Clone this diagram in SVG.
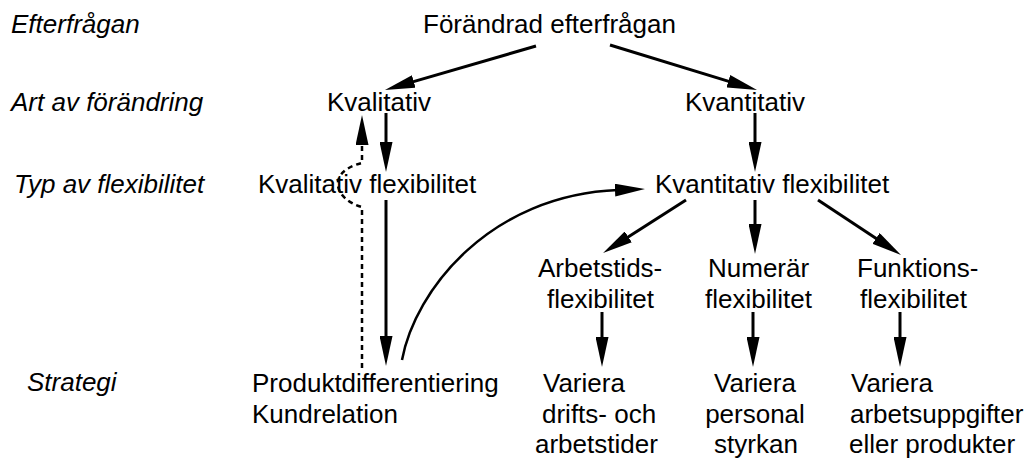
<svg xmlns="http://www.w3.org/2000/svg" width="1029" height="461" viewBox="0 0 1029 461">
<style>
text{font-family:"Liberation Sans",Arial,Helvetica,sans-serif;font-size:26px;fill:#000}
.lab{font-style:italic}
.mid{text-anchor:middle}
.c{fill:none;stroke:#000;stroke-width:3}
.thin{stroke-width:2.5}
.dash{stroke-width:2.5;stroke-dasharray:5,4}
</style>
<defs>
<marker id="ah" markerUnits="userSpaceOnUse" markerWidth="30" markerHeight="13" refX="3" refY="6.5" orient="auto" viewBox="0 0 30 13">
<path d="M0,0 L30,6.5 L0,13 z" fill="#000"/>
</marker>
</defs>
<rect width="1029" height="461" fill="#fff"/>
<g id="labels">
<text class="lab" x="11" y="33">Efterfrågan</text>
<text class="lab" x="11" y="111">Art av förändring</text>
<text class="lab" x="14" y="193">Typ av flexibilitet</text>
<text class="lab" x="27" y="391">Strategi</text>
</g>
<g id="n-efterfragan"><text x="423" y="33">Förändrad efterfrågan</text></g>
<g id="n-kvalitativ"><text x="327" y="111">Kvalitativ</text></g>
<g id="n-kvantitativ"><text x="685" y="111">Kvantitativ</text></g>
<g id="n-kvalflex"><text x="258" y="193">Kvalitativ flexibilitet</text></g>
<g id="n-kvantflex"><text x="655" y="193">Kvantitativ flexibilitet</text></g>
<g id="n-arbetstids"><text x="538" y="277">Arbetstids-</text><text x="547" y="308">flexibilitet</text></g>
<g id="n-numerar"><text x="708" y="277">Numerär</text><text x="705" y="308">flexibilitet</text></g>
<g id="n-funktions"><text x="857" y="277">Funktions-</text><text x="860" y="308">flexibilitet</text></g>
<g id="n-produkt"><text x="252" y="392">Produktdifferentiering</text><text x="252" y="423">Kundrelation</text></g>
<g id="n-variera1"><text x="543" y="392">Variera</text><text x="542" y="423">drifts- och</text><text x="535" y="453">arbetstider</text></g>
<g id="n-variera2"><text class="mid" x="755" y="392">Variera</text><text class="mid" x="755" y="423">personal</text><text class="mid" x="756" y="453">styrkan</text></g>
<g id="n-variera3"><text x="851" y="392">Variera</text><text x="850" y="423">arbetsuppgifter</text><text x="849" y="453">eller produkter</text></g>
<g id="connectors">
<path class="c" d="M536,46 L410.9,82.4" marker-end="url(#ah)"/>
<path class="c" d="M610,45 L731.2,82.1" marker-end="url(#ah)"/>
<path class="c" d="M386,113 L386,145" marker-end="url(#ah)"/>
<path class="c" d="M755,113 L755,145" marker-end="url(#ah)"/>
<path class="c dash" d="M362,368 L362,207 C335,200 325,172 362,163 L362,142" marker-end="url(#ah)"/>
<path class="c" d="M386,200 L386,339" marker-end="url(#ah)"/>
<path class="c thin" d="M402,360 C415,290 490,195 618,190" marker-end="url(#ah)"/>
<path class="c" d="M686,200 L625.8,238.5" marker-end="url(#ah)"/>
<path class="c" d="M755,200 L755,227" marker-end="url(#ah)"/>
<path class="c" d="M818,200 L878.5,240.1" marker-end="url(#ah)"/>
<path class="c" d="M602,312 L602,340" marker-end="url(#ah)"/>
<path class="c" d="M753,312 L753,340" marker-end="url(#ah)"/>
<path class="c" d="M900,312 L900,340" marker-end="url(#ah)"/>
</g>
</svg>
